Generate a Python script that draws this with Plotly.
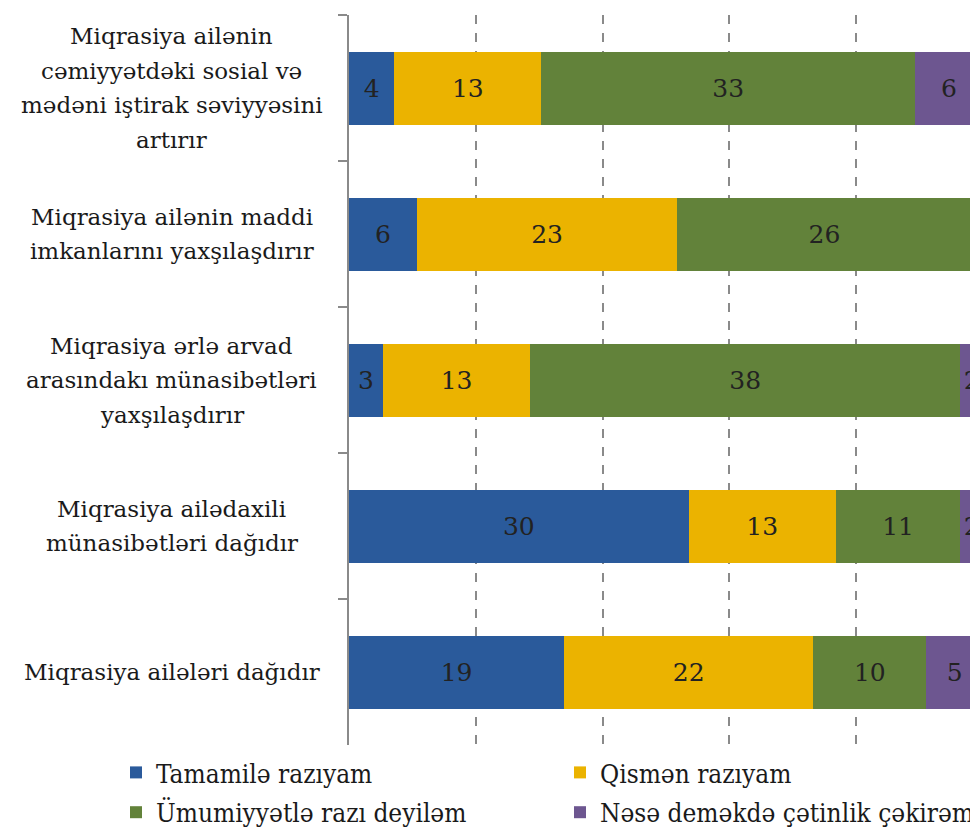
import plotly.graph_objects as go

# survey statements (top to bottom) and answer counts per option
statements = [
    "Miqrasiya ailənin<br>cəmiyyətdəki sosial və<br>mədəni iştirak səviyyəsini<br>artırır",
    "Miqrasiya ailənin maddi<br>imkanlarını yaxşılaşdırır",
    "Miqrasiya ərlə arvad<br>arasındakı münasibətləri<br>yaxşılaşdırır",
    "Miqrasiya ailədaxili<br>münasibətləri dağıdır",
    "Miqrasiya ailələri dağıdır",
]
answers = ["Tamamilə razıyam", "Qismən razıyam",
           "Ümumiyyətlə razı deyiləm", "Nəsə deməkdə çətinlik çəkirəm"]
tamamile = [4, 6, 3, 30, 19]
qismen = [13, 23, 13, 13, 22]
umumiyyetle = [33, 26, 38, 11, 10]
cetinlik = [6, 1, 2, 2, 5]

colors = ["#2A5A9B", "#EBB300", "#62823A", "#6D5690"]
legend_cols = ["legend", "legend2", "legend", "legend2"]  # 2-column legend
serif = "DejaVu Serif, Liberation Serif, serif"

fig = go.Figure()
for name, vals, col, lg in zip(answers, [tamamile, qismen, umumiyyetle, cetinlik], colors, legend_cols):
    fig.add_trace(go.Bar(
        y=statements, x=vals, name=name, orientation="h",
        marker=dict(color=col, line=dict(width=0)),
        text=vals, textposition="inside", insidetextanchor="middle",
        textfont=dict(family=serif, size=25, color="#222222"),
        cliponaxis=True, legend=lg, legendgroup=name,
    ))

# statement labels, centered, one annotation per line for the looser line spacing
for s in statements:
    lines = s.split("<br>")
    n = len(lines)
    for i, ln in enumerate(lines):
        fig.add_annotation(x=-0.2814, xref="paper", y=s, yref="y", text=ln,
                           showarrow=False, xanchor="center", yanchor="middle",
                           yshift=-(i - (n - 1) / 2) * 34.5,
                           font=dict(family=serif, size=23, color="#1a1a1a"))

total = 56  # respondents, 100% stacked
legend_font = dict(family="DejaVu Serif Condensed, " + serif, size=26, color="#1a1a1a")
# page body has an 8px margin, so the figure is 8px smaller than the window
fig.update_layout(
    width=970, height=824,
    barmode="stack", bargap=0.5,
    margin=dict(l=341, r=0, t=7, b=87, autoexpand=False),
    plot_bgcolor="white", paper_bgcolor="white",
    uniformtext=dict(minsize=25, mode="show"),
    legend=dict(xref="container", yref="container", x=108 / 970, y=1 - 741 / 824,
                xanchor="left", yanchor="top", font=legend_font, traceorder="grouped",
                tracegroupgap=3),
    legend2=dict(xref="container", yref="container", x=552 / 970, y=1 - 741 / 824,
                 xanchor="left", yanchor="top", font=legend_font, traceorder="grouped",
                 tracegroupgap=3),
    xaxis=dict(range=[0, total * 629 / 634], tick0=0, dtick=total / 5,
               showticklabels=False, zeroline=False, showgrid=True,
               gridcolor="#8a8a8a", gridwidth=2, griddash="dash"),
    yaxis=dict(autorange="reversed", showticklabels=False, showline=True,
               linecolor="#8a8a8a", linewidth=2, ticks="outside",
               tickson="boundaries", ticklen=9, tickcolor="#8a8a8a", tickwidth=2,
               showgrid=False),
)

fig.write_html("out.html")
